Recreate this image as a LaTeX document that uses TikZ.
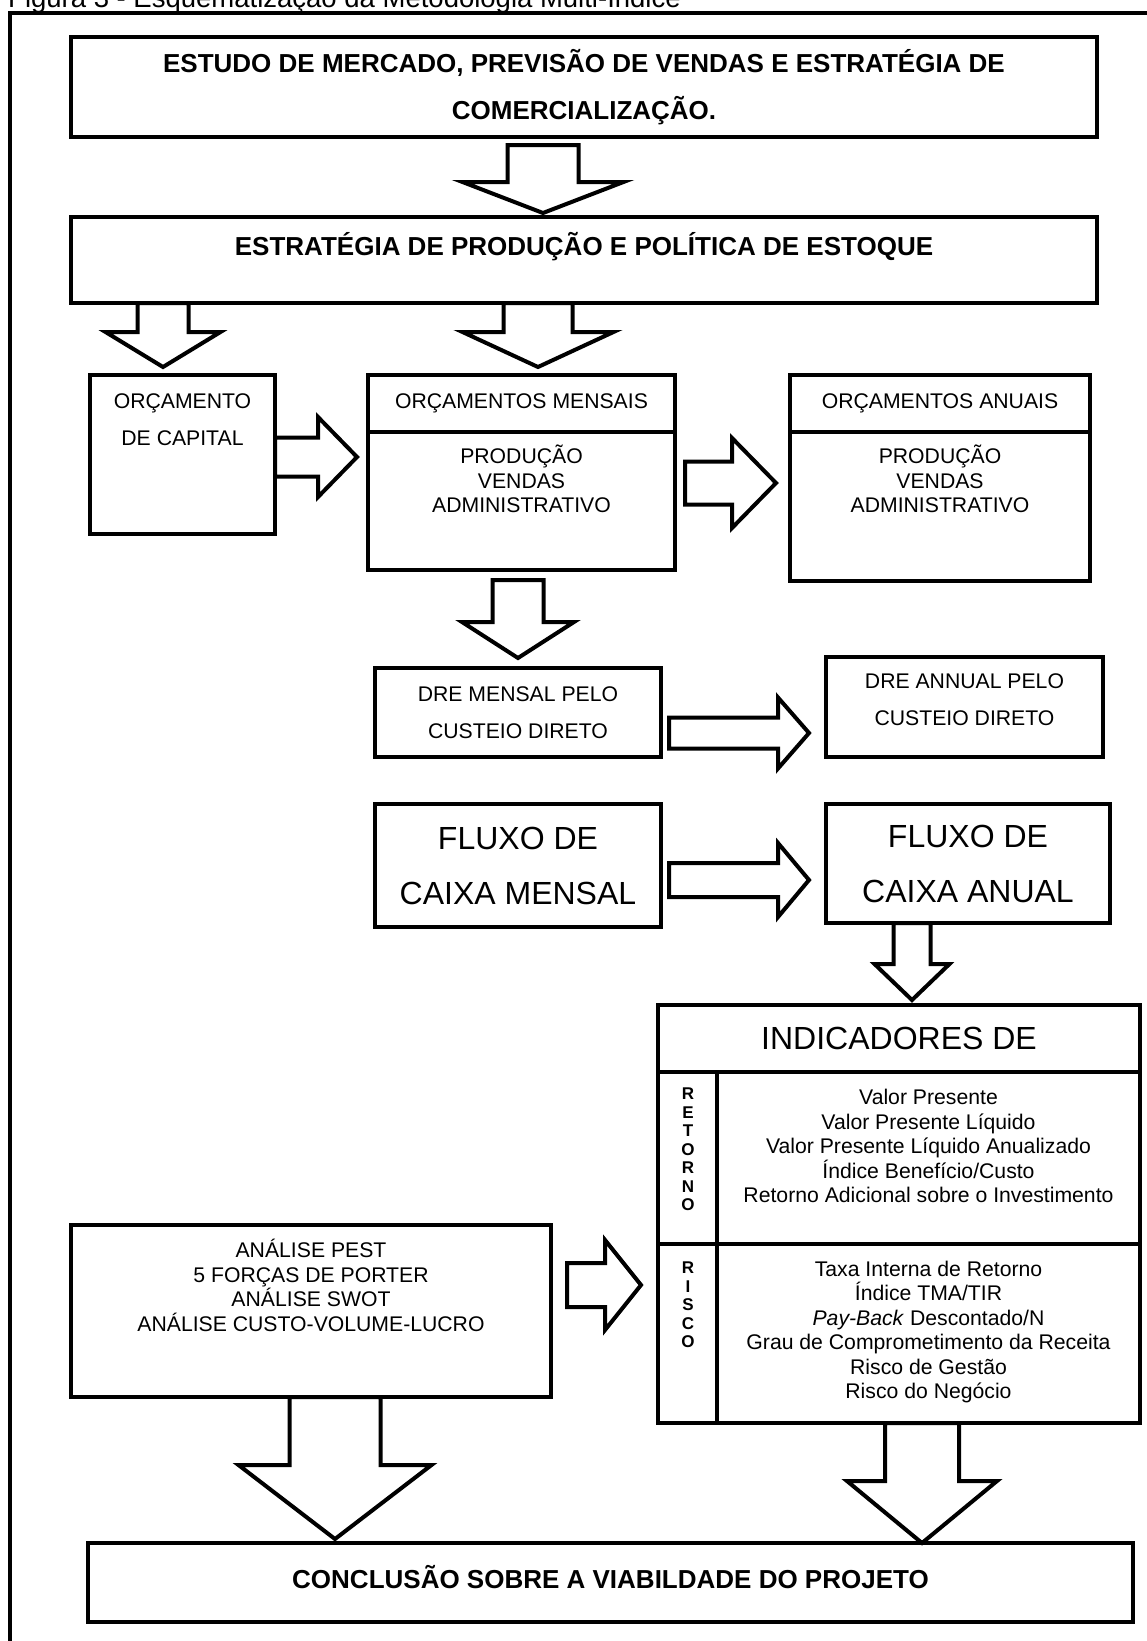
\documentclass[tikz,border=0pt]{standalone}
\usepackage{fontspec}
\setmainfont{Liberation Sans}
\usetikzlibrary{positioning, calc}

\begin{document}
\begin{tikzpicture}[x=1pt, y=1pt,
  caixa/.style={draw, line width=4.5pt, inner sep=0pt, outer sep=0pt, anchor=north west},
  seta/.style={draw, line width=4pt},
  txt/.style={font=\fontsize{21.2}{24.5}\selectfont, align=center, inner sep=0pt},
  txtb/.style={txt, font=\fontsize{21.2}{37}\selectfont},
  grande/.style={font=\fontsize{32}{55}\selectfont, align=center, inner sep=0pt},
  tit/.style={font=\bfseries\fontsize{26}{47}\selectfont, align=center, inner sep=0pt},
  letras/.style={font=\bfseries\fontsize{17}{18.5}\selectfont, align=center, inner sep=0pt},
  todown/.style n args={3}{to path={let \p1=(\tikztostart), \p2=(\tikztotarget) in
    (\x2-#1,\y1) -- (\x2-#1,\y2+#3) -- (\x2-#2,\y2+#3) -- (\x2,\y2)
    -- (\x2+#2,\y2+#3) -- (\x2+#1,\y2+#3) -- (\x2+#1,\y1) -- cycle}},
  toright/.style n args={3}{to path={let \p1=(\tikztostart), \p2=(\tikztotarget) in
    (\x1,\y2+#1) -- (\x2-#3,\y2+#1) -- (\x2-#3,\y2+#2) -- (\x2,\y2)
    -- (\x2-#3,\y2-#2) -- (\x2-#3,\y2-#1) -- (\x1,\y2-#1) -- cycle}}]
\useasboundingbox (0,0) rectangle (1146,-1641);

% moldura e legenda
\draw[line width=4.5pt] (10,-1700) -- (10,-13) -- (1200,-13);
\node[anchor=base west, inner sep=0pt, font=\fontsize{27.5}{30}\selectfont] (legenda) at (8,-7) {Figura 3 - Esquematização da Metodologia Multi-Índice};

% topo
\node[caixa, tit, minimum width=1026pt, minimum height=100pt] (mercado) at (71,-37) {ESTUDO DE MERCADO, PREVISÃO DE VENDAS E ESTRATÉGIA DE\\COMERCIALIZAÇÃO.};
\node[caixa, minimum width=1026pt, minimum height=86pt, below=80pt of mercado] (producao) {};
\node[tit, below=30pt of producao.north, anchor=center] (producaotxt) {ESTRATÉGIA DE PRODUÇÃO E POLÍTICA DE ESTOQUE};

% orcamentos
\node[caixa, minimum width=185pt, minimum height=159pt] (capital) at (90,-375) {};
\node[txtb, below=44.5pt of capital.north, anchor=center] (capitaltxt) {ORÇAMENTO\\DE CAPITAL};

\node[caixa, minimum width=307pt, minimum height=195pt, right=93pt of capital.north east, anchor=north west] (mensal) {};
\draw[line width=4.5pt] ([yshift=-57pt]mensal.north west) -- ([yshift=-57pt]mensal.north east);
\node[txt, below=28pt of mensal.north, anchor=center] (mensaltit) {ORÇAMENTOS MENSAIS};
\node[txt, below=104pt of mensal.north, anchor=center] (mensaltxt) {PRODUÇÃO\\VENDAS\\ADMINISTRATIVO};

\node[caixa, minimum width=300pt, minimum height=206pt, right=115pt of mensal.north east, anchor=north west] (anual) {};
\draw[line width=4.5pt] ([yshift=-57pt]anual.north west) -- ([yshift=-57pt]anual.north east);
\node[txt, below=28pt of anual.north, anchor=center] (anualtit) {ORÇAMENTOS ANUAIS};
\node[txt, below=104pt of anual.north, anchor=center] (anualtxt) {PRODUÇÃO\\VENDAS\\ADMINISTRATIVO};

% dre e fluxo
\node[caixa, txtb, minimum width=286pt, minimum height=89pt] (dremensal) at (375,-668) {DRE MENSAL PELO\\CUSTEIO DIRETO};
\node[caixa, minimum width=277pt, minimum height=100pt, right=165pt of dremensal.south east, anchor=south west] (dreanual) {};
\node[txtb, below=43pt of dreanual.north, anchor=center] (dreanualtxt) {DRE ANNUAL PELO\\CUSTEIO DIRETO};

\node[caixa, grande, minimum width=286pt, minimum height=123pt, below=47pt of dremensal] (fluxomensal) {FLUXO DE\\CAIXA MENSAL};
\node[caixa, grande, minimum width=284pt, minimum height=119pt, right=165pt of fluxomensal.north east, anchor=north west] (fluxoanual) {FLUXO DE\\CAIXA ANUAL};

% indicadores
\node[caixa, minimum width=482pt, minimum height=418pt] (indic) at (658,-1005) {};
\draw[line width=4.5pt] ([yshift=-67pt]indic.north west) -- ([yshift=-67pt]indic.north east);
\draw[line width=4.5pt] ([yshift=-239pt]indic.north west) -- ([yshift=-239pt]indic.north east);
\draw[line width=4.5pt] ([shift={(59pt,-67pt)}]indic.north west) -- ([xshift=59pt]indic.south west);
\node[grande, below=33pt of indic.north, anchor=center] (indictit) {INDICADORES DE};
\node[letras] (retornolet) at ($(indic.north west)+(30,-144.5)$) {R\\E\\T\\O\\R\\N\\O};
\node[letras] (riscolet) at ($(indic.north west)+(30,-300)$) {R\\I\\S\\C\\O};
\node[txt] (retorno) at ($(indic.north west)+(270.5,-141)$) {Valor Presente\\Valor Presente Líquido\\Valor Presente Líquido Anualizado\\Índice Benefício/Custo\\Retorno Adicional sobre o Investimento};
\node[txt] (risco) at ($(indic.north west)+(270.5,-327)$) {Taxa Interna de Retorno\\Índice TMA/TIR\\\textit{Pay-Back} Descontado/N\\Grau de Comprometimento da Receita\\Risco de Gestão\\Risco do Negócio};

% analises e conclusao
\node[caixa, minimum width=480pt, minimum height=172pt] (analise) at (71,-1225) {};
\node[txt, below=60.5pt of analise.north, anchor=center] (analisetxt) {ANÁLISE PEST\\5 FORÇAS DE PORTER\\ANÁLISE SWOT\\ANÁLISE CUSTO-VOLUME-LUCRO};
\node[caixa, minimum width=1045pt, minimum height=79pt] (conclusao) at (88,-1543) {};
\node[tit, below=34pt of conclusao.north, anchor=center] (conclusaotxt) {CONCLUSÃO SOBRE A VIABILDADE DO PROJETO};

% setas
\draw[seta, todown={35.5}{80.5}{31}] ($(mercado.south)+(-41,-8)$) to ($(producao.north)+(-41,4)$);
\draw[seta, todown={25.5}{57.5}{35}] ($(producao.south west)+(92,0)$) to ($(capital.north)+(-19.5,8)$);
\draw[seta, todown={34.5}{75.5}{35}] ($(producao.south west)+(467,0)$) to ($(mensal.north)+(16.5,8)$);
\draw[seta, toright={19.5}{40}{39}] ($(capital.east)+(0,-2.5)$) to ($(capital.east -| mensal.west)+(-11,-2.5)$);
\draw[seta, toright={21.5}{45}{44}] ($(mensal.east)+(10,-10.5)$) to ($(mensal.east -| anual.west)+(-14,-10.5)$);
\draw[seta, todown={25.5}{56}{36}] ($(mensal.south)+(-3.5,-10)$) to ($(dremensal.north)+(0,10)$);
\draw[seta, toright={15.5}{35.5}{31}] ($(dremensal.east)+(8,-20.5)$) to ($(dremensal.east -| dreanual.west)+(-17,-20.5)$);
\draw[seta, toright={17}{37}{31}] ($(fluxomensal.east)+(8,-14.5)$) to ($(fluxomensal.east -| fluxoanual.west)+(-17,-14.5)$);
\draw[seta, todown={18.5}{37.5}{36}] ($(fluxoanual.south)+(-56,0)$) to ($(indic.north)+(13,5)$);
\draw[seta, toright={22}{45}{36}] ($(analise.east)+(16,26)$) to ($(analise.east -| indic.west)+(-17,26)$);
\draw[seta, todown={45.5}{96.5}{74}] ($(analise.south)+(24,0)$) to ($(conclusao.north)+(-275.5,4)$);
\draw[seta, todown={37}{75}{62}] ($(indic.south)+(23,0)$) to ($(conclusao.north)+(311.5,0)$);
\end{tikzpicture}
\end{document}
